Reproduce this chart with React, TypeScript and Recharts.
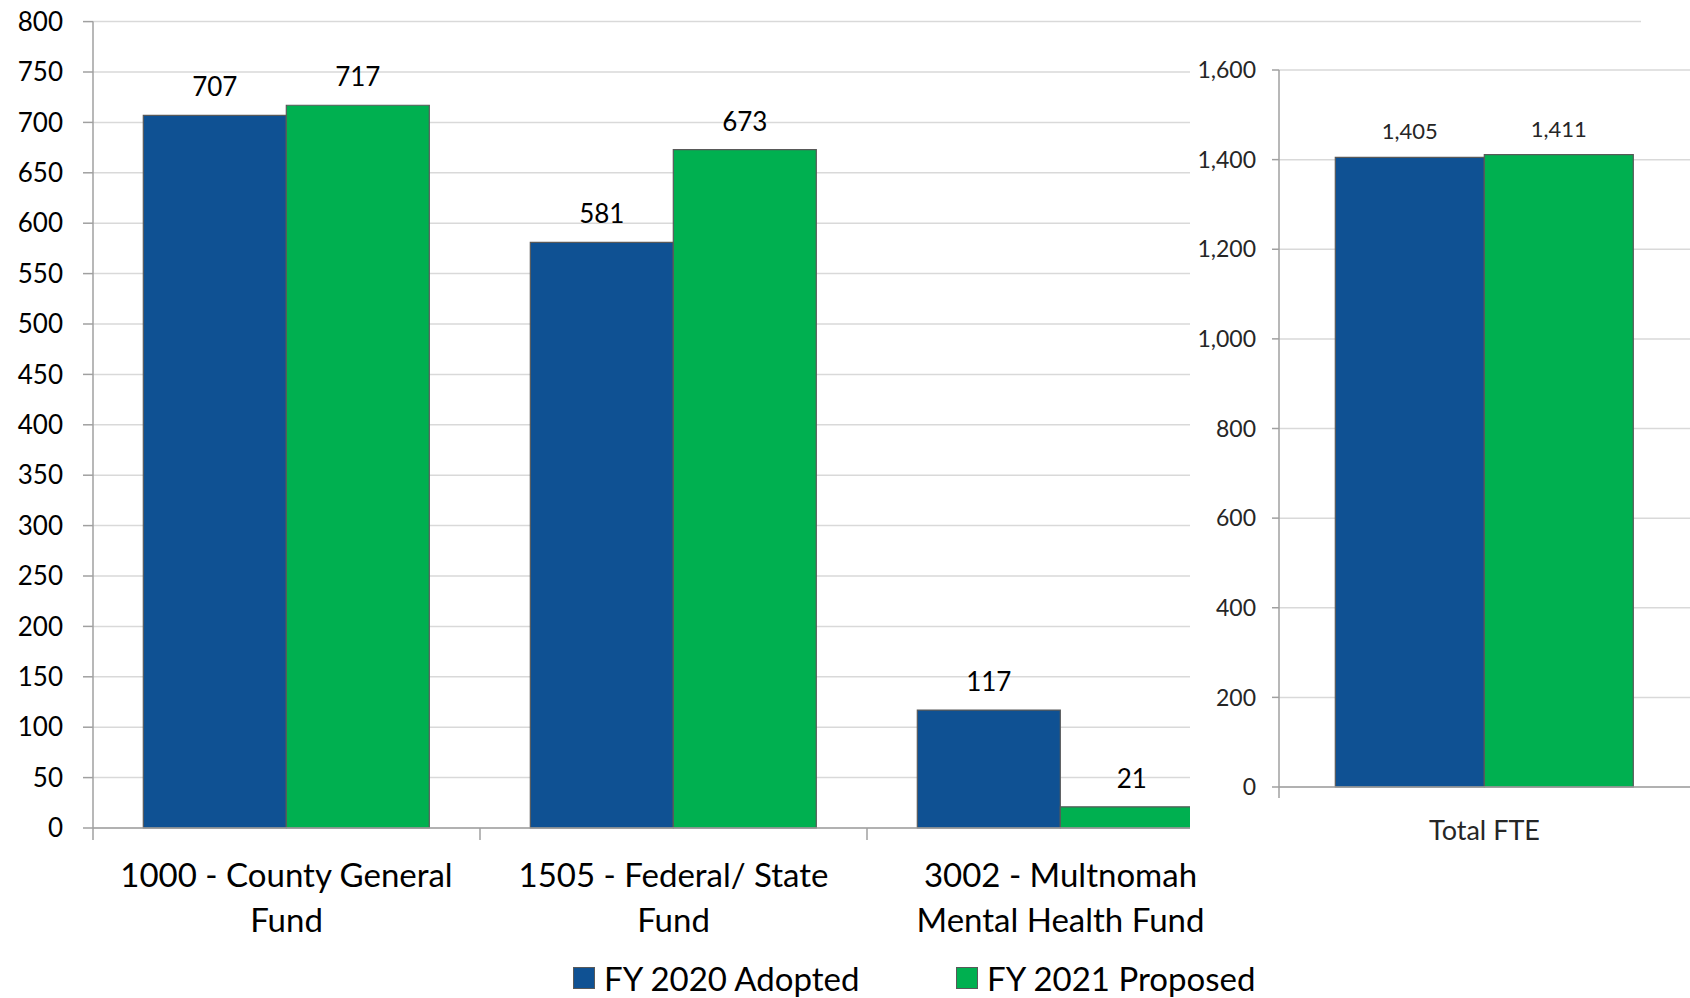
import React from "react"
import {
  Bar,
  BarChart,
  CartesianGrid,
  LabelList,
  Legend,
  XAxis,
  YAxis,
} from "recharts"

const funds = [
  "1000 - County General Fund",
  "1505 - Federal/ State Fund",
  "3002 - Multnomah Mental Health Fund",
]
const fundLabelLines = [
  ["1000 - County General", "Fund"],
  ["1505 - Federal/ State", "Fund"],
  ["3002 - Multnomah", "Mental Health Fund"],
]
const fy2020Adopted = [707, 581, 117]
const fy2021Proposed = [717, 673, 21]
const fundTicks = [0, 50, 100, 150, 200, 250, 300, 350, 400, 450, 500, 550, 600, 650, 700, 750, 800]

const fteGroups = ["Total FTE"]
const fteAdopted = [1405]
const fteProposed = [1411]
const fteTicks = [0, 200, 400, 600, 800, 1000, 1200, 1400, 1600]

const fundData = funds.map((name, i) => ({
  name,
  adopted: fy2020Adopted[i],
  proposed: fy2021Proposed[i],
}))
const fteData = fteGroups.map((name, i) => ({
  name,
  adopted: fteAdopted[i],
  proposed: fteProposed[i],
}))

const FONT = "Lato, 'Open Sans', sans-serif"
const BLUE = "#0f5193"
const GREEN = "#00b050"
const EDGE = "#595959"
const AXIS = "#a0a0a0"
const GRID = "#d9d9d9"

function FundTick({ x, y, payload }: any) {
  const half = payload.offset ?? 0
  const idx = funds.indexOf(payload.value)
  const lines = idx >= 0 ? fundLabelLines[idx] : [String(payload.value)]
  return (
    <g>
      <line x1={x - half} x2={x - half} y1={y} y2={y + 12} stroke={AXIS} strokeWidth={1.5} />
      <text x={x} y={y + 59} textAnchor="middle" fontSize={33} fontFamily={FONT} fill="#000">
        {lines.map((line, i) => (
          <tspan key={i} x={x} dy={i === 0 ? 0 : 45}>
            {line}
          </tspan>
        ))}
      </text>
    </g>
  )
}

function FteTick({ x, y, payload }: any) {
  const half = payload.offset ?? 0
  return (
    <g>
      <line x1={x - half} x2={x - half} y1={y} y2={y + 11} stroke={AXIS} strokeWidth={1.5} />
      <text x={x} y={y + 53} textAnchor="middle" fontSize={27} fontFamily={FONT} fill="#262626">
        {payload.value}
      </text>
    </g>
  )
}

function FundLegend({ payload }: any) {
  return (
    <div style={{ display: "flex", height: 40, alignItems: "center", fontFamily: FONT }}>
      {(payload || []).map((entry: any, i: number) => (
        <div
          key={entry.value}
          style={{ display: "flex", alignItems: "center", width: i === 0 ? 383 : "auto" }}
        >
          <span
            style={{
              display: "inline-block",
              width: 22,
              height: 22,
              boxSizing: "border-box",
              background: entry.color,
              border: `1px solid ${EDGE}`,
              marginRight: 9,
            }}
          />
          <span style={{ fontSize: 33, color: "#000", lineHeight: "40px" }}>{entry.value}</span>
        </div>
      ))}
    </div>
  )
}

export default function App() {
  return (
    <div style={{ position: "absolute", left: 0, top: 0, width: 1690, height: 998, background: "#fff" }}>
      <div style={{ position: "absolute", left: 0, top: 0 }}>
        <BarChart
          width={1690}
          height={998}
          data={fundData}
          margin={{ top: 21.6, right: 49, left: 0, bottom: 0 }}
          barCategoryGap="13%"
          barGap={0}
        >
          <CartesianGrid vertical={false} stroke={GRID} strokeWidth={1.5} />
          <XAxis
            dataKey="name"
            height={130}
            padding={{ left: 0, right: 387 }}
            axisLine={{ stroke: AXIS, strokeWidth: 1.5 }}
            tickLine={false}
            tickSize={0}
            tickMargin={0}
            interval={0}
            tick={<FundTick />}
          />
          <YAxis
            width={93}
            domain={[0, 800]}
            ticks={fundTicks}
            interval={0}
            axisLine={{ stroke: AXIS, strokeWidth: 1.5 }}
            tickLine={{ stroke: AXIS, strokeWidth: 1.5 }}
            tickSize={10}
            tickMargin={20}
            tick={{ fill: "#000", fontSize: 26, fontFamily: FONT }}
          />
          <Legend
            verticalAlign="bottom"
            align="left"
            content={<FundLegend />}
            wrapperStyle={{ left: 573, width: 800, height: 40, bottom: 0 }}
          />
          <Bar
            dataKey="adopted"
            name="FY 2020 Adopted"
            fill={BLUE}
            stroke={EDGE}
            strokeWidth={1.2}
            isAnimationActive={false}
          >
            <LabelList
              dataKey="adopted"
              position="top"
              offset={19}
              fill="#000"
              fontSize={26}
              fontFamily={FONT}
            />
          </Bar>
          <Bar
            dataKey="proposed"
            name="FY 2021 Proposed"
            fill={GREEN}
            stroke={EDGE}
            strokeWidth={1.2}
            isAnimationActive={false}
          >
            <LabelList
              dataKey="proposed"
              position="top"
              offset={19}
              fill="#000"
              fontSize={26}
              fontFamily={FONT}
            />
          </Bar>
        </BarChart>
      </div>
      <div
        style={{
          position: "absolute",
          left: 1190,
          top: 40,
          width: 500,
          height: 815,
          background: "#fff",
        }}
      >
        <BarChart
          width={500}
          height={815}
          data={fteData}
          margin={{ top: 30, right: 0, left: 0, bottom: 0 }}
          barCategoryGap="13.7%"
          barGap={0}
        >
          <CartesianGrid vertical={false} stroke={GRID} strokeWidth={1.5} />
          <XAxis
            dataKey="name"
            height={68}
            axisLine={{ stroke: AXIS, strokeWidth: 1.5 }}
            tickLine={false}
            tickSize={0}
            tickMargin={0}
            tick={<FteTick />}
          />
          <YAxis
            width={89}
            domain={[0, 1600]}
            ticks={fteTicks}
            interval={0}
            axisLine={{ stroke: AXIS, strokeWidth: 1.5 }}
            tickLine={{ stroke: AXIS, strokeWidth: 1.5 }}
            tickSize={7}
            tickMargin={16}
            tickFormatter={(v: number) => v.toLocaleString("en-US")}
            tick={{ fill: "#262626", fontSize: 23, fontFamily: FONT }}
          />
          <Bar
            dataKey="adopted"
            fill={BLUE}
            stroke={EDGE}
            strokeWidth={1.2}
            isAnimationActive={false}
          >
            <LabelList
              dataKey="adopted"
              position="top"
              offset={18}
              fill="#262626"
              fontSize={22}
              fontFamily={FONT}
              formatter={(v: any) => Number(v).toLocaleString("en-US")}
            />
          </Bar>
          <Bar
            dataKey="proposed"
            fill={GREEN}
            stroke={EDGE}
            strokeWidth={1.2}
            isAnimationActive={false}
          >
            <LabelList
              dataKey="proposed"
              position="top"
              offset={18}
              fill="#262626"
              fontSize={22}
              fontFamily={FONT}
              formatter={(v: any) => Number(v).toLocaleString("en-US")}
            />
          </Bar>
        </BarChart>
      </div>
    </div>
  )
}
